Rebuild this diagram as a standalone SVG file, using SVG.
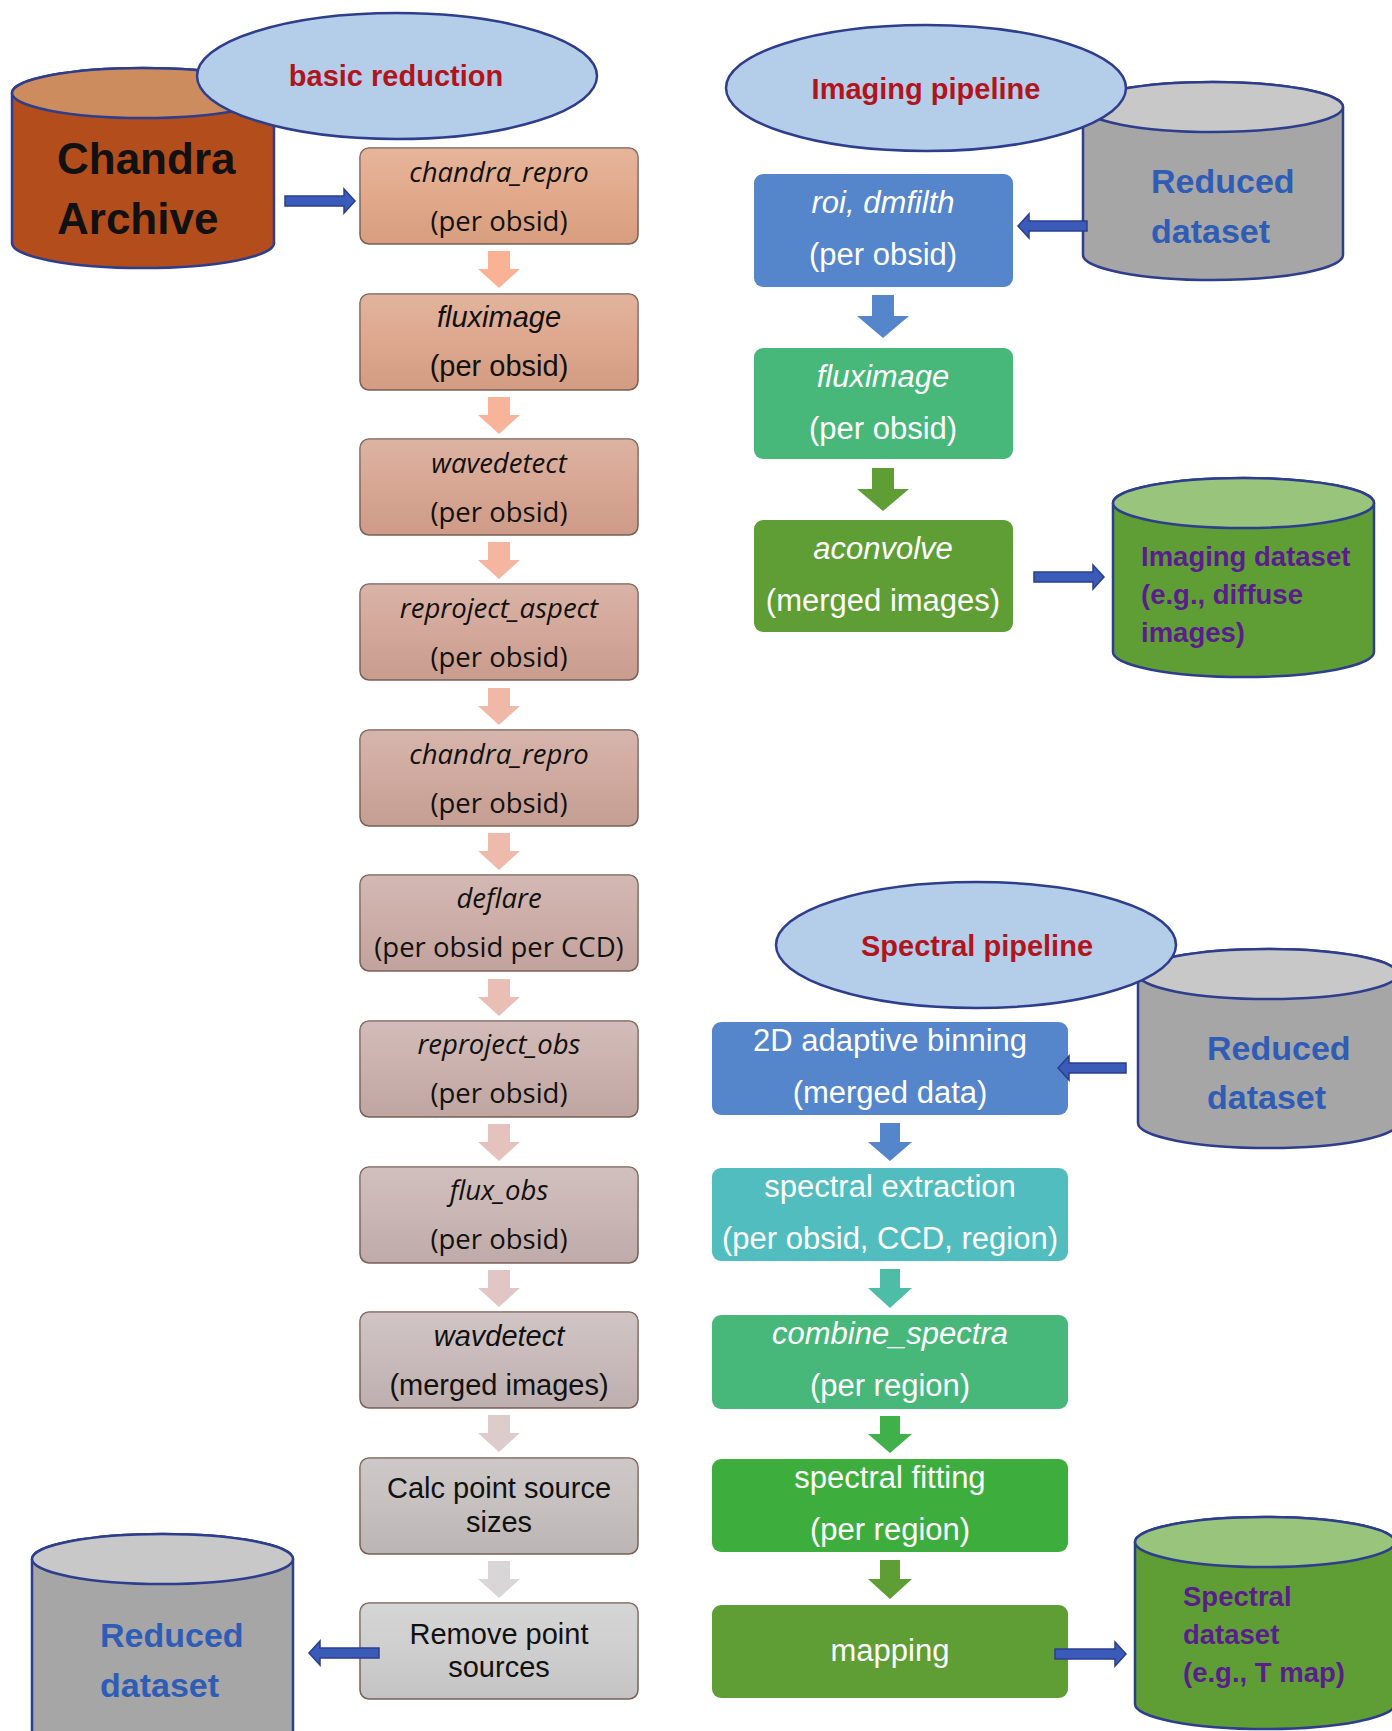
<svg xmlns="http://www.w3.org/2000/svg" width="1392" height="1731" viewBox="0 0 1392 1731">
<defs>
<style>
.cylstroke{stroke:#2E3E8C;stroke-width:2.5}
.ell{fill:#B4CDE8;stroke:#2E3E8C;stroke-width:2.5}
.hdr{font-family:"Liberation Sans",Arial,sans-serif;font-weight:bold;font-size:29px;fill:#B0151E;text-anchor:middle}
.lbox{stroke:#7A6258;stroke-width:1.5}
.ov{fill:url(#shade);stroke:none}
.t1{font-family:"Open Sans",sans-serif;font-size:27.5px;fill:#111;text-anchor:middle}
.t2{font-family:"Liberation Sans",Arial,sans-serif;font-size:29px;fill:#111;text-anchor:middle}
.it{font-style:italic}
.w{font-family:"Liberation Sans",Arial,sans-serif;font-size:31px;fill:#fff;text-anchor:middle}
.red{font-family:"Liberation Sans",Arial,sans-serif;font-weight:bold;font-size:34px;fill:#2F5DB5}
.pur{font-family:"Liberation Sans",Arial,sans-serif;font-weight:bold;font-size:27.5px;fill:#5A1E8C}
.barrow{fill:#3A5BB8;stroke:#2B3F8F;stroke-width:1.5}
</style>
<linearGradient id="shade" x1="0" y1="0" x2="0" y2="1">
<stop offset="0" stop-color="#fff" stop-opacity="0.18"/>
<stop offset="0.5" stop-color="#fff" stop-opacity="0.05"/>
<stop offset="1" stop-color="#000" stop-opacity="0.04"/>
</linearGradient>
</defs>
<rect width="1392" height="1731" fill="#fff"/>

<!-- Chandra archive cylinder -->
<g id="chandra-archive">
<path class="cylstroke" fill="#B34D1B" d="M12 93 L12 243 A131 25 0 0 0 274 243 L274 93 A131 25 0 0 0 12 93 Z"/>
<ellipse class="cylstroke" cx="143" cy="93" rx="131" ry="25" fill="#CD8C5E"/>
<text x="57" y="174" font-family="Liberation Sans, Arial, sans-serif" font-weight="bold" font-size="44" fill="#111">Chandra</text>
<text x="57" y="234" font-family="Liberation Sans, Arial, sans-serif" font-weight="bold" font-size="44" fill="#111">Archive</text>
</g>
<g id="basic-reduction">
<ellipse class="ell" cx="397" cy="76" rx="200" ry="63"/>
<text class="hdr" x="396" y="86">basic reduction</text>
</g>

<!-- Imaging reduced dataset -->
<g id="reduced-dataset-imaging">
<path class="cylstroke" fill="#A6A6A6" d="M1083 107 L1083 255 A130 25 0 0 0 1343 255 L1343 107 A130 25 0 0 0 1083 107 Z"/>
<ellipse class="cylstroke" cx="1213" cy="107" rx="130" ry="25" fill="#C8C8C8"/>
<text class="red" x="1151" y="193">Reduced</text>
<text class="red" x="1151" y="243">dataset</text>
</g>
<g id="imaging-pipeline">
<ellipse class="ell" cx="926" cy="88" rx="200" ry="63"/>
<text class="hdr" x="926" y="99">Imaging pipeline</text>
</g>

<!-- Imaging dataset -->
<g id="imaging-dataset">
<path class="cylstroke" fill="#5E9E34" d="M1113 503 L1113 652 A130.5 25 0 0 0 1374 652 L1374 503 A130.5 25 0 0 0 1113 503 Z"/>
<ellipse class="cylstroke" cx="1243.5" cy="503" rx="130.5" ry="25" fill="#98C47C"/>
<text class="pur" x="1141" y="566">Imaging dataset</text>
<text class="pur" x="1141" y="604">(e.g., diffuse</text>
<text class="pur" x="1141" y="642">images)</text>
</g>

<!-- Spectral reduced dataset -->
<g id="reduced-dataset-spectral">
<path class="cylstroke" fill="#A6A6A6" d="M1138 974 L1138 1123 A130 25 0 0 0 1398 1123 L1398 974 A130 25 0 0 0 1138 974 Z"/>
<ellipse class="cylstroke" cx="1268" cy="974" rx="130" ry="25" fill="#C8C8C8"/>
<text class="red" x="1207" y="1060">Reduced</text>
<text class="red" x="1207" y="1109">dataset</text>
</g>
<g id="spectral-pipeline">
<ellipse class="ell" cx="976" cy="945" rx="200" ry="63"/>
<text class="hdr" x="977" y="956">Spectral pipeline</text>
</g>

<!-- Spectral dataset -->
<g id="spectral-dataset">
<path class="cylstroke" fill="#5E9E34" d="M1135 1542 L1135 1704 A130 25 0 0 0 1395 1704 L1395 1542 A130 25 0 0 0 1135 1542 Z"/>
<ellipse class="cylstroke" cx="1265" cy="1542" rx="130" ry="25" fill="#98C47C"/>
<text class="pur" x="1183" y="1606">Spectral</text>
<text class="pur" x="1183" y="1644">dataset</text>
<text class="pur" x="1183" y="1682">(e.g., T map)</text>
</g>

<!-- Bottom-left reduced dataset -->
<g id="reduced-dataset-final">
<path class="cylstroke" fill="#A6A6A6" d="M32 1559 L32 1736 A130.5 25 0 0 0 293 1736 L293 1559 A130.5 25 0 0 0 32 1559 Z"/>
<ellipse class="cylstroke" cx="162.5" cy="1559" rx="130.5" ry="25" fill="#C8C8C8"/>
<text class="red" x="100" y="1647">Reduced</text>
<text class="red" x="100" y="1697">dataset</text>
</g>

<!-- Left column boxes -->
<g id="box-chandra-repro-1">
<rect class="lbox" x="360" y="148" width="278" height="96" rx="9" fill="#E0A585"/>
<rect class="ov" x="360" y="148" width="278" height="96" rx="9"/>
<text class="t1 it" x="499" y="182">chandra_repro</text>
<text class="t1" x="499" y="231">(per obsid)</text>
</g>
<g id="box-fluximage-1">
<rect class="lbox" x="360" y="294" width="278" height="96" rx="9" fill="#DCA388"/>
<rect class="ov" x="360" y="294" width="278" height="96" rx="9"/>
<text class="t2 it" x="499" y="327">fluximage</text>
<text class="t2" x="499" y="376">(per obsid)</text>
</g>
<g id="box-wavedetect">
<rect class="lbox" x="360" y="439" width="278" height="96" rx="9" fill="#D6A28E"/>
<rect class="ov" x="360" y="439" width="278" height="96" rx="9"/>
<text class="t1 it" x="499" y="473">wavedetect</text>
<text class="t1" x="499" y="522">(per obsid)</text>
</g>
<g id="box-reproject-aspect">
<rect class="lbox" x="360" y="584" width="278" height="96" rx="9" fill="#D1A394"/>
<rect class="ov" x="360" y="584" width="278" height="96" rx="9"/>
<text class="t1 it" x="499" y="618">reproject_aspect</text>
<text class="t1" x="499" y="667">(per obsid)</text>
</g>
<g id="box-chandra-repro-2">
<rect class="lbox" x="360" y="730" width="278" height="96" rx="9" fill="#CDA59A"/>
<rect class="ov" x="360" y="730" width="278" height="96" rx="9"/>
<text class="t1 it" x="499" y="764">chandra_repro</text>
<text class="t1" x="499" y="813">(per obsid)</text>
</g>
<g id="box-deflare">
<rect class="lbox" x="360" y="875" width="278" height="96" rx="9" fill="#CAA9A3"/>
<rect class="ov" x="360" y="875" width="278" height="96" rx="9"/>
<text class="t1 it" x="499" y="908">deflare</text>
<text class="t1" x="499" y="957">(per obsid per CCD)</text>
</g>
<g id="box-reproject-obs">
<rect class="lbox" x="360" y="1021" width="278" height="96" rx="9" fill="#C8ADA9"/>
<rect class="ov" x="360" y="1021" width="278" height="96" rx="9"/>
<text class="t1 it" x="499" y="1054">reproject_obs</text>
<text class="t1" x="499" y="1103">(per obsid)</text>
</g>
<g id="box-flux-obs">
<rect class="lbox" x="360" y="1167" width="278" height="96" rx="9" fill="#C7B2B0"/>
<rect class="ov" x="360" y="1167" width="278" height="96" rx="9"/>
<text class="t1 it" x="499" y="1200">flux_obs</text>
<text class="t1" x="499" y="1249">(per obsid)</text>
</g>
<g id="box-wavdetect-merged">
<rect class="lbox" x="360" y="1312" width="278" height="96" rx="9" fill="#C6B7B7"/>
<rect class="ov" x="360" y="1312" width="278" height="96" rx="9"/>
<text class="t2 it" x="499" y="1346">wavdetect</text>
<text class="t2" x="499" y="1395">(merged images)</text>
</g>
<g id="box-calc-point-source">
<rect class="lbox" x="360" y="1458" width="278" height="96" rx="9" fill="#C3BDBC"/>
<rect class="ov" x="360" y="1458" width="278" height="96" rx="9"/>
<text class="t2" x="499" y="1498">Calc point source</text>
<text class="t2" x="499" y="1532">sizes</text>
</g>
<g id="box-remove-point">
<rect class="lbox" x="360" y="1603" width="278" height="96" rx="9" fill="#CCCCCC"/>
<rect class="ov" x="360" y="1603" width="278" height="96" rx="9"/>
<text class="t2" x="499" y="1644">Remove point</text>
<text class="t2" x="499" y="1677">sources</text>
</g>

<!-- Imaging boxes -->
<g id="box-roi-dmfilth">
<rect x="754" y="174" width="259" height="113" rx="9" fill="#5585CA"/>
<text class="w it" x="883" y="213">roi, dmfilth</text>
<text class="w" x="883" y="265">(per obsid)</text>
</g>
<g id="box-fluximage-2">
<rect x="754" y="348" width="259" height="111" rx="9" fill="#47B87A"/>
<text class="w it" x="883" y="387">fluximage</text>
<text class="w" x="883" y="439">(per obsid)</text>
</g>
<g id="box-aconvolve">
<rect x="754" y="520" width="259" height="112" rx="9" fill="#5F9E34"/>
<text class="w it" x="883" y="559">aconvolve</text>
<text class="w" x="883" y="611">(merged images)</text>
</g>

<!-- Spectral boxes -->
<g id="box-adaptive-binning">
<rect x="712" y="1022" width="356" height="93" rx="9" fill="#5585CA"/>
<text class="w" x="890" y="1051">2D adaptive binning</text>
<text class="w" x="890" y="1103">(merged data)</text>
</g>
<g id="box-spectral-extraction">
<rect x="712" y="1168" width="356" height="93" rx="9" fill="#52BDBE"/>
<text class="w" x="890" y="1197">spectral extraction</text>
<text class="w" x="890" y="1249">(per obsid, CCD, region)</text>
</g>
<g id="box-combine-spectra">
<rect x="712" y="1315" width="356" height="94" rx="9" fill="#47B87A"/>
<text class="w it" x="890" y="1344">combine_spectra</text>
<text class="w" x="890" y="1396">(per region)</text>
</g>
<g id="box-spectral-fitting">
<rect x="712" y="1459" width="356" height="93" rx="9" fill="#3DAE3D"/>
<text class="w" x="890" y="1488">spectral fitting</text>
<text class="w" x="890" y="1540">(per region)</text>
</g>
<g id="box-mapping">
<rect x="712" y="1605" width="356" height="93" rx="9" fill="#5F9E34"/>
<text class="w" x="890" y="1661">mapping</text>
</g>

<!-- Connectors -->
<g id="connectors">
<!-- left column down arrows -->
<polygon fill="#F9B394" points="488,251 510,251 510,269 520,269 499,288 478,269 488,269"/>
<polygon fill="#F7B49A" points="488,397 510,397 510,415 520,415 499,434 478,415 488,415"/>
<polygon fill="#F4B6A0" points="488,542 510,542 510,560 520,560 499,579 478,560 488,560"/>
<polygon fill="#F0B8A6" points="488,688 510,688 510,706 520,706 499,725 478,706 488,706"/>
<polygon fill="#EDBAAC" points="488,833 510,833 510,851 520,851 499,870 478,851 488,851"/>
<polygon fill="#E9BEB4" points="488,979 510,979 510,997 520,997 499,1016 478,997 488,997"/>
<polygon fill="#E6C2BE" points="488,1124 510,1124 510,1142 520,1142 499,1161 478,1142 488,1142"/>
<polygon fill="#E2C6C5" points="488,1270 510,1270 510,1288 520,1288 499,1307 478,1288 488,1288"/>
<polygon fill="#DDCCCC" points="488,1415 510,1415 510,1433 520,1433 499,1452 478,1433 488,1433"/>
<polygon fill="#D8D6D6" points="488,1561 510,1561 510,1579 520,1579 499,1598 478,1579 488,1579"/>

<!-- imaging down arrows -->
<polygon fill="#5585CA" points="872,295 894,295 894,316 909,316 883,338 857,316 872,316"/>
<polygon fill="#5F9E34" points="872,468 894,468 894,489 909,489 883,511 857,489 872,489"/>

<!-- spectral down arrows -->
<polygon fill="#5585CA" points="880,1123 900,1123 900,1142 912,1142 890,1161 868,1142 880,1142"/>
<polygon fill="#4DBDA8" points="880,1269 900,1269 900,1288 912,1288 890,1308 868,1288 880,1288"/>
<polygon fill="#3FB04A" points="880,1416 900,1416 900,1434 912,1434 890,1453 868,1434 880,1434"/>
<polygon fill="#5F9E34" points="880,1560 900,1560 900,1579 912,1579 890,1599 868,1579 880,1579"/>

<!-- blue block arrows -->
<polygon class="barrow" points="285,196 344,196 344,189 355,201 344,213 344,206 285,206"/>
<polygon class="barrow" points="1087,221 1029,221 1029,214 1018,226 1029,238 1029,231 1087,231"/>
<polygon class="barrow" points="1034,572 1093,572 1093,565 1104,577 1093,589 1093,582 1034,582"/>
<polygon class="barrow" points="1126,1063 1069,1063 1069,1056 1058,1068 1069,1080 1069,1073 1126,1073"/>
<polygon class="barrow" points="379,1648 320,1648 320,1641 309,1653 320,1665 320,1658 379,1658"/>
<polygon class="barrow" points="1055,1649 1115,1649 1115,1642 1126,1654 1115,1666 1115,1659 1055,1659"/>
</g>
</svg>
